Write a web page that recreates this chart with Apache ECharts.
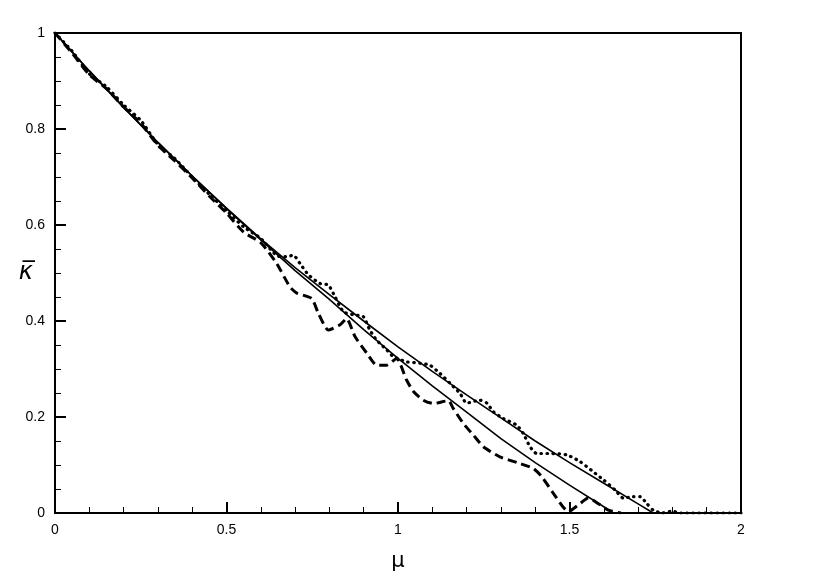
<!DOCTYPE html>
<html>
<head>
<meta charset="utf-8">
<script src="https://cdn.jsdelivr.net/npm/echarts@6/dist/echarts.min.js"></script>
<style>html,body{margin:0;padding:0;background:#fff;}#c{width:823px;height:582px;}</style>
</head>
<body>
<div id="c"></div>
<script>
// ---- data ----
const xTicks = [0, 0.5, 1, 1.5, 2];
const yTicks = [0, 0.2, 0.4, 0.6, 0.8, 1];

const upperMu    = [0, 0.1, 0.2, 0.3, 0.4, 0.5, 0.6, 0.7, 0.8, 0.9, 1.0, 1.1, 1.2, 1.3, 1.4, 1.5, 1.6, 1.7, 1.744, 2];
const upperKappa = [1, 0.921, 0.845, 0.772, 0.702, 0.635, 0.571, 0.511, 0.455, 0.400, 0.346, 0.295, 0.246, 0.198, 0.150, 0.105, 0.062, 0.019, 0, 0];

const lowerMu    = [0, 0.1, 0.2, 0.3, 0.4, 0.5, 0.6, 0.7, 0.8, 0.9, 1.0, 1.1, 1.2, 1.3, 1.4, 1.5, 1.6, 1.628];
const lowerKappa = [1, 0.921, 0.845, 0.772, 0.702, 0.634, 0.569, 0.505, 0.445, 0.382, 0.322, 0.265, 0.210, 0.155, 0.105, 0.058, 0.013, 0];

const dashedMu    = [0, 0.05, 0.1, 0.15, 0.2, 0.25, 0.3, 0.35, 0.4, 0.45, 0.5, 0.55, 0.6, 0.646, 0.685, 0.705, 0.748, 0.768, 0.797, 0.831, 0.85, 0.875, 0.909, 0.938, 0.967, 0.996, 1.025, 1.045, 1.074, 1.103, 1.147, 1.161, 1.19, 1.22, 1.249, 1.297, 1.356, 1.394, 1.419, 1.453, 1.497, 1.526, 1.555, 1.589, 1.613, 1.65];
const dashedKappa = [1, 0.958, 0.913, 0.884, 0.846, 0.812, 0.766, 0.733, 0.698, 0.660, 0.625, 0.585, 0.563, 0.52, 0.471, 0.458, 0.447, 0.416, 0.381, 0.392, 0.405, 0.367, 0.333, 0.308, 0.308, 0.322, 0.277, 0.253, 0.235, 0.228, 0.234, 0.218, 0.187, 0.162, 0.138, 0.117, 0.103, 0.093, 0.076, 0.041, 0.003, 0.017, 0.031, 0.017, 0.006, 0];

const dottedMu    = [0, 0.05, 0.1, 0.15, 0.2, 0.25, 0.3, 0.35, 0.4, 0.45, 0.5, 0.55, 0.6, 0.65, 0.675, 0.695, 0.714, 0.739, 0.773, 0.797, 0.816, 0.841, 0.87, 0.899, 0.918, 0.938, 0.967, 0.986, 1.025, 1.064, 1.093, 1.122, 1.152, 1.181, 1.2, 1.239, 1.259, 1.278, 1.307, 1.346, 1.365, 1.385, 1.404, 1.443, 1.492, 1.531, 1.569, 1.599, 1.633, 1.657, 1.686, 1.706, 1.725, 1.744, 1.77, 1.8, 1.82, 2];
const dottedKappa = [1, 0.962, 0.915, 0.888, 0.850, 0.818, 0.768, 0.738, 0.700, 0.664, 0.630, 0.596, 0.572, 0.535, 0.534, 0.537, 0.52, 0.496, 0.478, 0.475, 0.451, 0.419, 0.413, 0.409, 0.381, 0.36, 0.34, 0.326, 0.315, 0.312, 0.308, 0.291, 0.27, 0.249, 0.229, 0.235, 0.229, 0.211, 0.197, 0.183, 0.166, 0.138, 0.124, 0.124, 0.121, 0.107, 0.086, 0.069, 0.048, 0.031, 0.034, 0.034, 0.02, 0.006, 0, 0.004, 0, 0];

function pairs(xs, ys) { return xs.map((x, i) => [x, ys[i]]); }

const chart = echarts.init(document.getElementById('c'), null, {renderer: 'canvas'});
const font = 'Liberation Sans';
chart.setOption({
  animation: false,
  backgroundColor: '#fff',
  grid: { left: 55, right: 82, top: 33, bottom: 69, show: true, borderColor: '#000', borderWidth: 2, backgroundColor: 'transparent' },
  xAxis: {
    type: 'value', min: xTicks[0], max: xTicks[xTicks.length - 1], interval: 0.5,
    name: 'μ', nameLocation: 'middle', nameGap: 38, nameMoveOverlap: false,
    nameTextStyle: { fontFamily: 'DejaVu Sans', fontSize: 21, color: '#000' },
    axisLine: { show: true, lineStyle: { color: '#000', width: 2 } },
    axisTick: { show: true, inside: true, length: 11, lineStyle: { color: '#000', width: 2 } },
    minorTick: { show: true, splitNumber: 5, length: 6, lineStyle: { color: '#000', width: 1 } },
    splitLine: { show: false },
    axisLabel: { fontFamily: font, fontSize: 14, color: '#000', margin: 10,
      formatter: v => xTicks.indexOf(v) >= 0 ? String(v) : '' }
  },
  yAxis: {
    type: 'value', min: yTicks[0], max: yTicks[yTicks.length - 1], interval: 0.2,
    name: 'κ̅', nameLocation: 'middle', nameGap: 22, nameRotate: 0, nameMoveOverlap: false,
    nameTextStyle: { fontFamily: 'DejaVu Sans', fontStyle: 'italic', fontSize: 24, color: '#000' },
    axisLine: { show: true, lineStyle: { color: '#000', width: 2 } },
    axisTick: { show: true, inside: true, length: 11, lineStyle: { color: '#000', width: 2 } },
    minorTick: { show: true, splitNumber: 4, length: 6, lineStyle: { color: '#000', width: 1 } },
    splitLine: { show: false },
    axisLabel: { fontFamily: font, fontSize: 14, color: '#000', margin: 10,
      formatter: v => String(Math.round(v * 10) / 10) }
  },
  series: [
    { type: 'line', data: pairs(upperMu, upperKappa), symbol: 'none', smooth: false,
      lineStyle: { color: '#000', width: 1.6 } },
    { type: 'line', data: pairs(lowerMu, lowerKappa), symbol: 'none', smooth: false,
      lineStyle: { color: '#000', width: 1.6 } },
    { type: 'line', data: pairs(dashedMu, dashedKappa), symbol: 'none', smooth: 0.2,
      lineStyle: { color: '#000', width: 3, type: [9, 5] } },
    { type: 'line', data: pairs(dottedMu, dottedKappa), symbol: 'none', smooth: 0.2,
      lineStyle: { color: '#000', width: 3.2, type: [0.5, 5.5], cap: 'round' } }
  ]
});
</script>
</body>
</html>
